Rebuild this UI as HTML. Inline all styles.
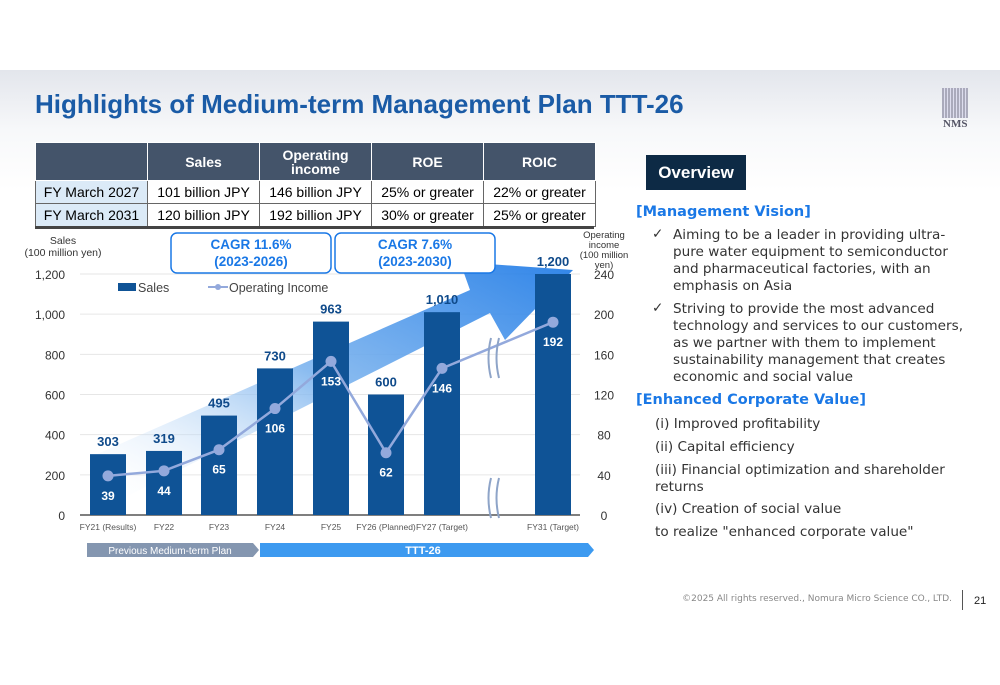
<!DOCTYPE html>
<html><head><meta charset="utf-8">
<style>
body{margin:0;width:1000px;height:685px;overflow:hidden;font-family:"Liberation Sans","DejaVu Sans",sans-serif;background:#fff;position:relative}
.slide{position:absolute;left:0;top:70px;width:1000px;height:615px;background:linear-gradient(#e3e6ec 0px,#f7f8fa 60px,#fff 120px)}
.abs{position:absolute}
table{border-collapse:collapse;position:absolute;left:35px;top:142px;font-size:14px}
td,th{border:1px solid #666;text-align:center;padding:0;height:22px}
th{background:#44546a;color:#fff;font-weight:bold;height:37px;border-color:#fff}
td.f{background:#dbeaf7}
.rt{font-size:13.6px;color:#333;line-height:17px;font-family:"DejaVu Sans",sans-serif}
</style></head><body>
<div class="slide"></div>
<div class="abs" style="left:35px;top:89px;font-size:26px;font-weight:bold;color:#1a5ba6">Highlights of Medium-term Management Plan TTT-26</div>
<div class="abs" style="left:942px;top:88px;width:26px;height:30px;background:repeating-linear-gradient(90deg,#aab 0 2px,#dde 2px 3px)"></div>
<div class="abs" style="left:943px;top:118px;font-size:11px;font-weight:bold;color:#556;font-family:'Liberation Serif',serif">NMS</div>
<table>
<tr><th style="width:111px"></th><th style="width:111px">Sales</th><th style="width:111px;line-height:14px">Operating<br>income</th><th style="width:111px">ROE</th><th style="width:111px">ROIC</th></tr>
<tr><td class="f">FY March 2027</td><td>101 billion JPY</td><td>146 billion JPY</td><td>25% or greater</td><td>22% or greater</td></tr>
<tr><td class="f">FY March 2031</td><td>120 billion JPY</td><td>192 billion JPY</td><td>30% or greater</td><td>25% or greater</td></tr>
</table>
<div class="abs" style="left:35px;top:226px;width:559px;height:3px;background:#444"></div>
<svg class="abs" style="left:0;top:0" width="640" height="685" id="chart">
<defs><linearGradient id="ag" x1="0" y1="1" x2="1" y2="0"><stop offset="0" stop-color="#fff" stop-opacity="0"/><stop offset="0.5" stop-color="#7db4ee"/><stop offset="1" stop-color="#1a78e6"/></linearGradient></defs>
</svg>
<div class="abs" style="left:646px;top:155px;width:100px;height:35px;background:#0d2a45;color:#fff;font-size:17px;font-weight:bold;text-align:center;line-height:36px">Overview</div>
<div class="abs" style="left:636px;top:204px;font-size:14.5px;font-weight:bold;color:#1a78e6;font-family:'DejaVu Sans',sans-serif">[Management Vision]</div>
<div class="abs rt" style="left:652px;top:226px">✓</div>
<div class="abs rt" style="left:673px;top:227px;width:300px">Aiming to be a leader in providing ultra-pure water equipment to semiconductor and pharmaceutical factories, with an emphasis on Asia</div>
<div class="abs rt" style="left:652px;top:300px">✓</div>
<div class="abs rt" style="left:673px;top:301px;width:300px">Striving to provide the most advanced technology and services to our customers, as we partner with them to implement sustainability management that creates economic and social value</div>
<div class="abs" style="left:636px;top:392px;font-size:14.5px;font-weight:bold;color:#1a78e6;font-family:'DejaVu Sans',sans-serif">[Enhanced Corporate Value]</div>
<div class="abs rt" style="left:655px;top:416px">(i) Improved profitability</div>
<div class="abs rt" style="left:655px;top:439px">(ii) Capital efficiency</div>
<div class="abs rt" style="left:655px;top:462px;width:320px">(iii) Financial optimization and shareholder returns</div>
<div class="abs rt" style="left:655px;top:501px">(iv) Creation of social value</div>
<div class="abs rt" style="left:655px;top:524px">to realize "enhanced corporate value"</div>
<div class="abs" style="left:680px;top:594px;width:272px;text-align:right;font-size:9px;color:#888;font-family:'DejaVu Sans',sans-serif">©2025 All rights reserved., Nomura Micro Science CO., LTD.</div>
<div class="abs" style="left:962px;top:590px;width:1px;height:20px;background:#555"></div>
<div class="abs" style="left:974px;top:595px;font-size:11px;color:#222">21</div>
<script>
const categories=["FY21 (Results)","FY22","FY23","FY24","FY25","FY26 (Planned)","FY27 (Target)","FY31 (Target)"];
const sales=[303,319,495,730,963,600,1010,1200];
const income=[39,44,65,106,153,62,146,192];
const leftTicks=[0,200,400,600,800,1000,1200];
const rightTicks=[0,40,80,120,160,200,240];
const svg=document.getElementById('chart');
const NS='http://www.w3.org/2000/svg';
const xc=[108,164,219,275,331,386,442,553];
const y0=515,yTop=274;
const yL=v=>y0-(v/1200)*(y0-yTop);
const yR=v=>y0-(v/240)*(y0-yTop);
function mk(t,a,txt){const e=document.createElementNS(NS,t);for(const k in a)e.setAttribute(k,a[k]);if(txt!==undefined)e.textContent=txt;svg.appendChild(e);return e;}
leftTicks.forEach((t,i)=>{
 const g=mk('line',{x1:80,x2:580,y1:yL(t),y2:yL(t),stroke:i?'#e6e6e6':'#555','stroke-width':i?1:1.5});
 
 
 const l=mk('text',{x:65,y:yL(t)+5,'text-anchor':'end','font-size':12,fill:'#333'},t.toLocaleString('en-US'));
 
 
});
rightTicks.forEach(t=>{
 const l=mk('text',{x:604,y:yR(t)+5,'text-anchor':'middle','font-size':12,fill:'#333'},t);
 
 
});
const ar=mk('polygon',{points:'95,455 470,290 460,262 573,270 505,340 490,313 110,505',fill:'url(#ag)',opacity:0.9});


sales.forEach((v,i)=>{
 const b=mk('rect',{x:xc[i]-18,y:yL(v),width:36,height:y0-yL(v),fill:'#0f5396'});
 
 
 const t=mk('text',{x:xc[i],y:yL(v)-8,'text-anchor':'middle','font-size':13,'font-weight':'bold',fill:'#0f4a8a'},v.toLocaleString('en-US'));
 
 
 const c=mk('text',{x:xc[i],y:530,'text-anchor':'middle','font-size':8.5,fill:'#555'},categories[i]);
 
 
});
const pts=income.map((v,i)=>xc[i]+','+yR(v));
const pl=mk('polyline',{points:pts.join(' '),fill:'none',stroke:'#93a9dc','stroke-width':2.5});


income.forEach((v,i)=>{
 const c=mk('circle',{cx:xc[i],cy:yR(v),r:5.5,fill:'#93a9dc'});
 
 
 const t=mk('text',{x:xc[i],y:yR(v)+24,'text-anchor':'middle','font-size':12,'font-weight':'bold',fill:'#fff'},v);
 
 
});
[[495,358],[495,498]].forEach(p=>{
 mk('path',{d:`M${p[0]-4},${p[1]-20} q-5,20 0,40 M${p[0]+4},${p[1]-20} q-5,20 0,40`,fill:'none',stroke:'#8ea4c8','stroke-width':2});
});
mk('rect',{x:118,y:283,width:18,height:8,fill:'#0f5396'});
mk('text',{x:138,y:292,'font-size':12.5,fill:'#444'},'Sales');
mk('line',{x1:208,x2:228,y1:287,y2:287,stroke:'#93a9dc','stroke-width':2});
mk('circle',{cx:218,cy:287,r:3,fill:'#93a9dc'});
mk('text',{x:229,y:292,'font-size':12.5,fill:'#444'},'Operating Income');
mk('text',{x:63,y:244,'text-anchor':'middle','font-size':10.5,fill:'#333'},'Sales');
mk('text',{x:63,y:256,'text-anchor':'middle','font-size':10.5,fill:'#333'},'(100 million yen)');
['Operating','income','(100 million','yen)'].forEach((s,i)=>mk('text',{x:604,y:238+i*10,'text-anchor':'middle','font-size':9.5,fill:'#333'},s));
[[171,'CAGR 11.6%','(2023-2026)'],[335,'CAGR 7.6%','(2023-2030)']].forEach(b=>{
 mk('rect',{x:b[0],y:233,width:160,height:40,rx:6,fill:'#fff',stroke:'#1a78e6','stroke-width':1.5});
 mk('text',{x:b[0]+80,y:249,'text-anchor':'middle','font-size':13.5,'font-weight':'bold',fill:'#1a78e6'},b[1]);
 mk('text',{x:b[0]+80,y:266,'text-anchor':'middle','font-size':13.5,'font-weight':'bold',fill:'#1a78e6'},b[2]);
});
mk('polygon',{points:'87,543 253,543 259,550 253,557 87,557',fill:'#8496b0'});
mk('text',{x:170,y:554,'text-anchor':'middle','font-size':10,fill:'#fff'},'Previous Medium-term Plan');
mk('polygon',{points:'260,543 588,543 594,550 588,557 260,557',fill:'#3d9af0'});
mk('text',{x:423,y:554,'text-anchor':'middle','font-size':11,'font-weight':'bold',fill:'#fff'},'TTT-26');
</script>
</body></html>
